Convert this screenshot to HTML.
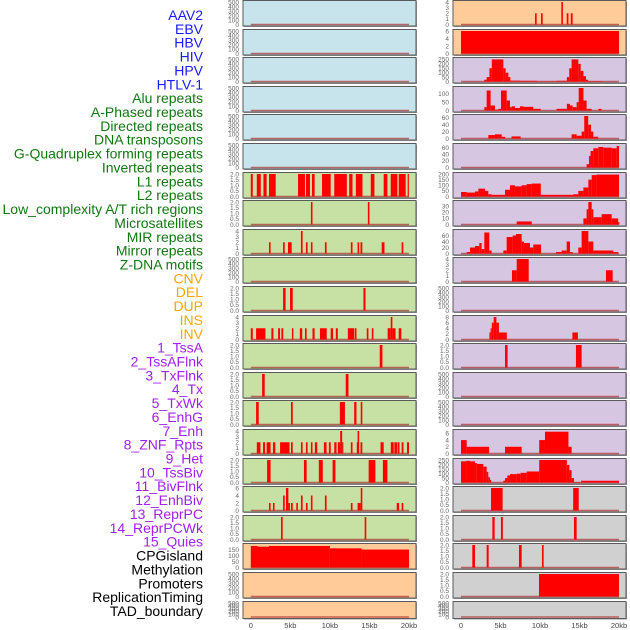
<!DOCTYPE html>
<html><head><meta charset="utf-8">
<style>
body{margin:0;background:#fff;width:630px;height:630px;overflow:hidden;font-family:"Liberation Sans",sans-serif}
svg{display:block}
</style></head>
<body>
<svg id="chart" width="630" height="630" xmlns="http://www.w3.org/2000/svg"></svg>
<script>
const labels=["AAV2","EBV","HBV","HIV","HPV","HTLV-1","Alu repeats","A-Phased repeats","Directed repeats","DNA transposons","G-Quadruplex forming repeats","Inverted repeats","L1 repeats","L2 repeats","Low_complexity A/T rich regions","Microsatellites","MIR repeats","Mirror repeats","Z-DNA motifs","CNV","DEL","DUP","INS","INV","1_TssA","2_TssAFlnk","3_TxFlnk","4_Tx","5_TxWk","6_EnhG","7_Enh","8_ZNF_Rpts","9_Het","10_TssBiv","11_BivFlnk","12_EnhBiv","13_ReprPC","14_ReprPCWk","15_Quies","CPGisland","Methylation","Promoters","ReplicationTiming","TAD_boundary"];
const labelGroups=[6,13,5,15,5];
const groupColors=["#1a1aff","#117711","#ffa500","#a020f0","#000000"];
const xTicks=[0,5,10,15,20];
const xTickLabels=["0","5kb","10kb","15kb","20kb"];
const t500=[0,100,200,300,400,500];
const t2=[0,0.5,1,1.5,2];
const t4=[0,1,2,3,4];
const t6=[0,2,4,6];
const t150=[0,50,100,150];
const t250=[0,50,100,150,200,250];
const t100=[0,50,100];
const t60=[0,20,40,60];
const t200=[0,50,100,150,200];
const t30=[0,10,20,30];
const t8=[0,2,4,6,8];
// left column series [startKb,endKb,value]
const sL7=[[0,0.25,2],[0.76,1.26,2],[1.6,2.0,2],[2.3,3.15,2],[5.97,6.85,2],[6.97,7.48,2],[7.73,8.07,2],[9.0,10.1,2],[10.55,12.14,2],[12.44,12.86,2],[13.28,14.12,2],[15.17,15.63,2],[16.8,17.27,2],[17.69,18.53,2],[18.7,19.58,2],[19.83,19.96,2]];
const sL8=[[7.6,7.8,2],[14.8,15.0,2]];
const sL9=[[2.3,2.5,2],[4.08,4.29,2],[4.7,5.17,2],[6.34,6.55,4],[6.97,7.18,2],[7.6,7.8,2],[9.37,9.58,2],[12.65,12.86,2],[13.5,13.7,2],[13.87,14.1,2],[16.55,16.9,2],[19.07,19.28,2]];
const sL11=[[4.08,4.4,2],[4.96,5.3,2],[14.24,14.5,2]];
const sL12=[[0,0.25,2],[0.67,1.85,2],[2.6,2.86,2],[3.45,3.7,2],[3.87,4.1,2],[5.2,5.38,2],[6.2,6.5,2],[6.85,7.06,2],[7.8,8.07,2],[8.74,9.6,2],[10.1,10.4,2],[10.75,11.0,2],[12.27,13.07,2],[13.15,13.36,2],[14.66,14.87,2],[15.3,15.5,2],[17.3,17.69,2],[17.69,17.9,4],[17.9,18.3,2],[18.7,19.03,2]];
const sL13=[[16.3,16.64,2]];
const sL14=[[1.43,1.76,2],[12.0,12.35,2]];
const sL15=[[0.67,1.0,2],[5.08,5.3,2],[11.26,11.9,2],[13.07,13.36,2],[13.9,14.1,2]];
const sL16=[[0.76,1.22,2],[1.55,1.8,2],[2.0,2.5,2],[2.8,3.1,2],[3.7,4.9,2],[5.08,5.3,2],[6.34,6.55,2],[6.97,7.18,2],[7.6,7.8,2],[8.1,8.4,2],[9.24,9.58,2],[9.87,10.1,2],[10.55,10.84,2],[11.0,11.3,2],[11.3,11.55,4],[11.55,11.6,2],[12.65,12.86,2],[13.4,13.5,2],[13.5,13.7,4],[13.87,14.1,2],[16.4,16.8,2],[17.7,18.07,2],[18.15,18.5,2],[18.57,18.8,2],[19.07,19.3,2],[19.75,20.0,2]];
const sL17=[[2.06,2.5,2],[6.72,7.06,2],[8.6,9.1,2],[10.34,10.7,2],[14.9,15.75,2],[16.7,17.27,2]];
const sL18=[[2.3,2.5,2],[2.8,3.0,2],[4.08,4.29,4],[4.45,4.75,6],[4.75,4.95,2],[5.08,5.3,2],[5.75,5.95,2],[6.34,6.55,4],[6.97,7.18,2],[7.6,7.8,4],[9.37,9.58,4],[12.65,12.86,2],[13.5,13.9,2],[13.9,14.1,6],[18.45,18.75,2],[19.07,19.28,2]];
const sL19=[[3.82,4.03,2],[14.4,14.6,2]];
const sL20=[[0,0.85,180],[0.85,2.3,174],[2.3,10.0,180],[10.0,14.0,160],[14.0,20,150]];
// right column series
const sR1=[[9.37,9.58,2],[10.13,10.34,2],[12.7,12.9,4],[13.38,13.6,2],[13.9,14.13,2]];
const sR2=[[0,20,6]];
const sR3=[[2.95,3.25,20],[3.25,3.6,50],[3.6,3.9,150],[3.9,5.36,250],[5.36,5.65,150],[5.65,6.0,100],[6.0,6.25,50],[6.25,7.5,10],[7.5,9.6,8],[9.6,12.1,3],[12.1,13.4,8],[13.4,13.7,50],[13.7,14.0,150],[14.0,14.85,250],[14.85,15.15,200],[15.15,15.5,120],[15.5,15.82,60],[15.82,16.1,20],[16.1,17.8,5]];
const sR4=[[2.95,3.25,20],[3.25,3.75,120],[3.75,4.3,30],[4.3,4.72,5],[4.72,5.06,10],[5.06,5.78,120],[5.78,6.2,60],[6.2,6.4,20],[6.4,6.83,25],[6.83,7.47,15],[7.47,7.9,25],[7.9,9.15,22],[9.15,9.5,10],[9.5,10.1,10],[12.1,13.4,10],[13.4,13.8,40],[13.8,14.13,30],[14.13,14.64,20],[14.64,14.9,50],[14.9,15.5,135],[15.5,15.9,60],[15.9,16.54,10],[17.4,17.8,10]];
const sR5=[[3.46,4.3,10],[4.3,5.15,12],[5.15,5.57,5],[6.4,7.55,6],[14.0,14.64,12],[14.64,15.27,8],[15.27,15.6,20],[15.6,16.1,65],[16.1,16.46,40],[16.46,16.75,20],[16.75,17.38,5]];
const sR6=[[15.9,16.2,10],[16.2,16.4,35],[16.4,16.75,50],[16.75,17.38,58],[17.38,18.0,62],[18.0,19.07,60],[19.07,19.7,58],[19.7,20,65]];
const sR7=[[0,0.72,40],[0.72,1.77,35],[1.77,2.2,45],[2.2,3.04,70],[3.04,3.46,50],[3.46,3.88,20],[3.88,5.57,15],[5.57,6.2,60],[6.2,6.83,100],[6.83,7.68,90],[7.68,8.31,100],[8.31,8.94,110],[8.94,10.1,115],[10.1,14.2,15],[14.2,14.85,20],[14.85,15.49,50],[15.49,16.12,80],[16.12,16.54,150],[16.54,17.17,190],[17.17,20,195]];
const sR8=[[7.05,8.95,5],[15.49,15.9,10],[15.9,16.12,25],[16.12,16.54,38],[16.54,16.75,25],[16.75,17.8,12],[17.8,19.07,17],[19.07,19.9,10],[19.9,20,4]];
const sR9=[[0.72,1.14,5],[1.14,1.77,20],[1.77,2.32,25],[2.32,2.61,35],[2.61,2.95,15],[2.95,3.58,70],[3.58,3.88,10],[5.36,5.78,10],[5.78,6.54,55],[6.54,6.96,60],[6.96,7.68,65],[7.68,7.97,40],[7.97,8.73,35],[8.73,9.15,20],[9.15,10.13,30],[12.03,12.74,5],[12.74,13.38,10],[13.38,13.8,40],[13.8,14.13,5],[14.85,15.27,20],[15.27,16.12,75],[16.12,16.75,40],[16.75,19.28,10],[19.28,19.9,5]];
const sR10=[[6.45,7.05,2],[7.05,8.57,4],[18.35,19.2,2]];
const sR12=[[3.6,3.75,2.5],[3.75,3.9,4],[3.9,4.14,6],[4.14,4.48,8],[4.48,4.8,6],[4.8,5.8,2.5],[14.1,14.8,2.5]];
const sR13=[[5.57,5.9,2],[14.55,15.27,2]];
const sR16=[[0,0.72,4],[0.72,3.55,2],[5.57,7.68,2],[9.9,10.63,4],[10.63,13.6,6.5],[13.6,14.0,2]];
const sR17=[[0,0.64,240],[0.64,1.14,245],[1.14,1.77,240],[1.77,2.0,220],[2.0,2.82,210],[2.82,3.25,180],[3.25,3.46,120],[3.46,3.67,60],[3.67,3.8,30],[5.36,5.57,20],[5.57,5.86,50],[5.86,6.2,80],[6.2,7.05,95],[7.05,7.55,100],[7.55,8.31,110],[8.31,9.9,125],[9.9,13.4,255],[13.4,13.72,200],[13.72,14.0,140],[14.0,14.3,50],[14.3,15.06,5],[15.2,20,20]];
const sR18=[[3.8,5.27,2],[14.2,14.9,2]];
const sR19=[[3.97,4.26,2],[5.06,5.3,2],[14.3,14.64,2]];
const sR20=[[1.43,1.77,2],[3.25,3.5,2],[7.34,7.68,2],[10.25,10.46,2]];
const sR21=[[9.87,20,2]];

const BLUE="#c7e3eb",GREEN="#c7e1a4",ORANGE="#ffcc99",PURPLE="#d6c6e2",GREY="#d0d0d0";
const leftPanels=[
 [[],t500,500,BLUE],[[],t500,500,BLUE],[[],t500,500,BLUE],[[],t500,500,BLUE],[[],t500,500,BLUE],[[],t500,500,BLUE],
 [sL7,t2,2,GREEN],[sL8,t2,2,GREEN],[sL9,t4,4,GREEN],[[],t500,500,GREEN],[sL11,t2,2,GREEN],[sL12,t4,4,GREEN],[sL13,t2,2,GREEN],
 [sL14,t2,2,GREEN],[sL15,t2,2,GREEN],[sL16,t4,4,GREEN],[sL17,t2,2,GREEN],[sL18,t6,6,GREEN],[sL19,t2,2,GREEN],
 [sL20,t150,188,ORANGE],[[],t500,500,ORANGE],[[],t500,500,ORANGE]];
const rightPanels=[
 [sR1,t4,4,ORANGE],[sR2,t6,6,ORANGE],[sR3,t250,255,PURPLE],[sR4,t100,135,PURPLE],[sR5,t60,65,PURPLE],[sR6,t60,68,PURPLE],
 [sR7,t200,200,PURPLE],[sR8,t30,37,PURPLE],[sR9,t60,75,PURPLE],[sR10,t4,4,PURPLE],[[],t500,500,PURPLE],[sR12,t8,8,PURPLE],
 [sR13,t2,2,PURPLE],[[],t500,500,PURPLE],[[],t500,500,PURPLE],[sR16,t6,6.7,PURPLE],[sR17,t250,255,PURPLE],
 [sR18,t2,2,GREY],[sR19,t2,2,GREY],[sR20,t2,2,GREY],[sR21,t2,2,GREY],[[],t500,500,GREY]];

const NS="http://www.w3.org/2000/svg";
const svg=document.getElementById('chart');
function mk(tag,attrs,parent){const e=document.createElementNS(NS,tag);for(const k in attrs)e.setAttribute(k,attrs[k]);(parent||svg).appendChild(e);return e;}

// labels
let li=0;
labelGroups.forEach((n,g)=>{for(let j=0;j<n;j++){const t=mk('text',{x:203,y:20+li*13.86,'text-anchor':'end','font-size':'14',fill:groupColors[g]});


t.textContent=labels[li];li++;}});

function rowTop(i){return Math.round(i*28.6);}
function drawPanel(p,i,x0,x1,kb0x,kb1x,side){
 const [segs,ticks,ymax,bg]=p;
 const top=rowTop(i)+0.5, h=(i===21?17:25.5), bot=top+h;
 const g=mk('g',{});
 
 
 mk('rect',{x:x0+1,y:top+1,width:x1-x0,height:h,fill:'#999'},g);
 mk('rect',{x:x0,y:top,width:x1-x0,height:h,fill:bg,stroke:'#5a5a5a','stroke-width':1},g);
 const y=v=>(bot-1.5)-(v/ymax)*(h-3);
 const x=kb=>kb0x+(kb/20)*(kb1x-kb0x);
 mk('line',{x1:x(0),x2:x(20),y1:y(0),y2:y(0),stroke:'#b03030','stroke-width':1.5,opacity:0.7},g);
 segs.forEach(s=>{const r=mk('rect',{x:x(s[0]),y:y(Math.min(s[2],ymax)),width:Math.max(1.2,x(s[1])-x(s[0])),height:y(0)-y(Math.min(s[2],ymax)),fill:'#ff0000'},g);
 
 });
 ticks.forEach(tv=>{const t=mk('text',{x:x0-4,y:y(tv)+2.3,'text-anchor':'end','font-size':'6.5',fill:'#666'},g);
 
 
 t.textContent=(ticks===t2?tv.toFixed(1):tv);});
}
leftPanels.forEach((p,i)=>drawPanel(p,i,243,416,250.8,409,'left'));
rightPanels.forEach((p,i)=>drawPanel(p,i,453,626,461,619,'right'));
// x axes
[[250.8,409],[461,619]].forEach((a,k)=>{xTicks.forEach((tv,j)=>{const t=mk('text',{x:a[0]+tv/20*(a[1]-a[0]),y:628,'text-anchor':'middle','font-size':'7.5',fill:'#444'});


t.textContent=xTickLabels[j];});});
</script>
</body></html>
